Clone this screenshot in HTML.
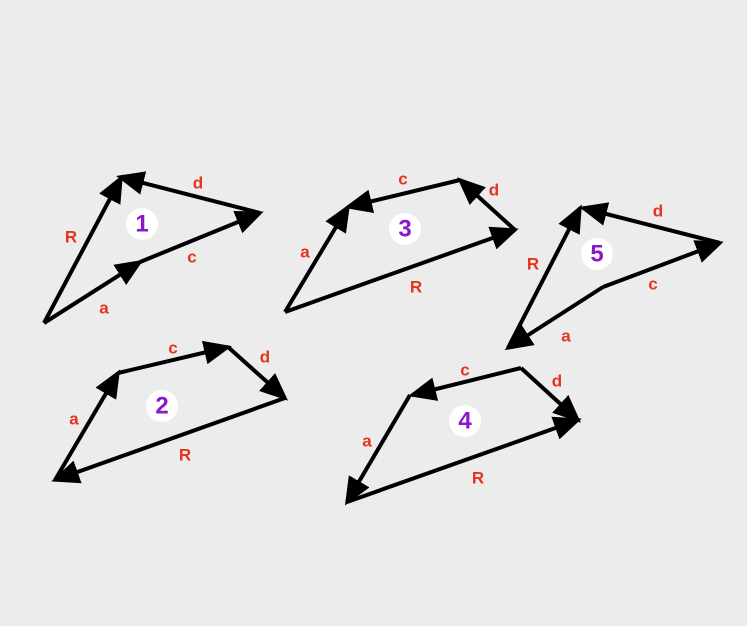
<!DOCTYPE html>
<html><head><meta charset="utf-8"><style>
html,body{margin:0;padding:0;background:#ececec;}
svg{display:block;}
.l{stroke:#000;stroke-width:4;fill:none;}
.t{fill:#e8321e;font:bold 17px "Liberation Sans",sans-serif;text-anchor:middle;dominant-baseline:central;}
.n{fill:#8a17c9;font:bold 24px "Liberation Sans",sans-serif;text-anchor:middle;dominant-baseline:central;}
</style></head><body>
<svg width="747" height="626" viewBox="0 0 747 626">
<defs><marker id="ah" markerWidth="7" markerHeight="6" refX="6" refY="3" orient="auto" markerUnits="strokeWidth"><path d="M0,0 L7,3 L0,6 Z" fill="#000"/></marker></defs>
<g id="g"></g>
</svg>
<script>
const vectors=[
[44,323,140,262],[140,262,260,213],[260,213,120,177],[44,323,121,178],
[285,312,515,230],[515,230,460,180],[460,180,348,207],[285,312,348,207],
[720,243,583,208],[508,348,580,208],[603,287,508,348],[603,287,720,243],
[55,480,118,373],[118,373,228,347],[228,347,285,398],[285,398,55,480],
[521,368,412,395],[521,368,578,420],[410,395,347,502],[347,502,578,420]];
const labels=[["R",71,237],["a",104,308],["c",192,257],["d",198,183],
["c",403,179],["d",494,190],["a",305,252],["R",416,287],
["d",658,211],["R",533,264],["c",653,284],["a",566,336],
["a",74,419],["c",173,348],["d",265,357],["R",185,455],
["c",465,370],["d",557,381],["a",367,441],["R",478,478]];
const nums=[["1",142,224],["3",405,229],["5",597,254],["2",162,406],["4",465,421]];
const g=document.getElementById('g'),NS='http://www.w3.org/2000/svg';
vectors.forEach(v=>{const l=document.createElementNS(NS,'line');
l.setAttribute('x1',v[0]);l.setAttribute('y1',v[1]);l.setAttribute('x2',v[2]);l.setAttribute('y2',v[3]);
l.setAttribute('class','l');l.setAttribute('marker-end','url(#ah)');


g.appendChild(l);});
labels.forEach(t=>{const e=document.createElementNS(NS,'text');
e.setAttribute('x',t[1]);e.setAttribute('y',t[2]);e.setAttribute('class','t');e.textContent=t[0];


g.appendChild(e);});
nums.forEach(t=>{const c=document.createElementNS(NS,'circle');
c.setAttribute('cx',t[1]);c.setAttribute('cy',t[2]);c.setAttribute('r',16);c.setAttribute('fill','#fff');


g.appendChild(c);
const e=document.createElementNS(NS,'text');
e.setAttribute('x',t[1]);e.setAttribute('y',t[2]);e.setAttribute('class','n');e.textContent=t[0];


g.appendChild(e);});
</script>
</body></html>
